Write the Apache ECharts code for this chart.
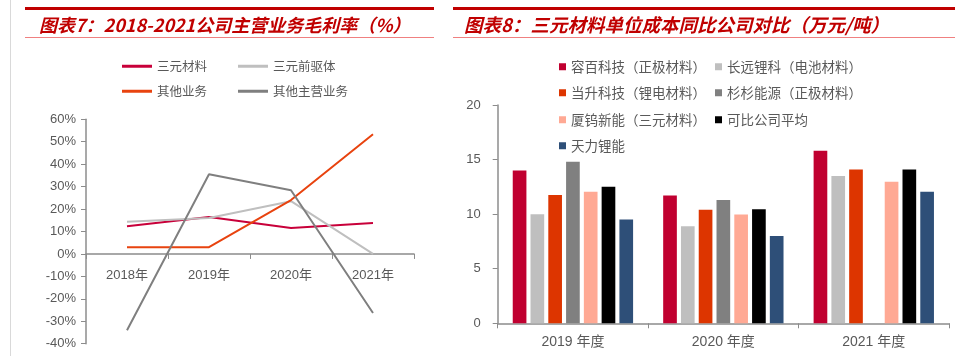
<!DOCTYPE html>
<html><head><meta charset="utf-8">
<script src="https://cdn.jsdelivr.net/npm/echarts@6/dist/echarts.min.js"></script>
<style>html,body{margin:0;padding:0;background:#fff}#c{width:963px;height:356px}</style>
</head><body><div id="c"></div>
<script>
// Left chart: gross margin (%)
const yearsL = ['2018年', '2019年', '2020年', '2021年'];
const sanyuanCailiao = [12.3, 16.5, 11.6, 13.8];
const sanyuanQianqu = [14.4, 16.0, 23.5, 0.0];
const qitaYewu = [3.0, 3.0, 24.0, 53.3];
const qitaZhuying = [-34.0, 35.5, 28.4, -26.3];
const lineNames = ['三元材料', '三元前驱体', '其他业务', '其他主营业务'];

// Right chart: unit cost (万元/吨)
const yearsR = ['2019 年度', '2020 年度', '2021 年度'];
const rongbai = [14.0, 11.7, 15.8];
const changyuan = [10.0, 8.9, 13.5];
const dangsheng = [11.75, 10.4, 14.1];
const shanshan = [14.8, 11.3, null];
const xiawu = [12.05, 9.97, 12.96];
const pingjun = [12.5, 10.45, 14.1];
const tianli = [9.5, 8.0, 12.05];
const barNames = ['容百科技（正极材料）', '长远锂科（电池材料）', '当升科技（锂电材料）', '杉杉能源（正极材料）', '厦钨新能（三元材料）', '可比公司平均', '天力锂能'];

const lineData = [sanyuanCailiao, sanyuanQianqu, qitaYewu, qitaZhuying];
const lineColors = ['#C8003A', '#BFBFBF', '#E8430F', '#7F7F7F'];
const barData = [rongbai, changyuan, dangsheng, shanshan, xiawu, pingjun, tianli];
const barColors = ['#C00030', '#BFBFBF', '#DD3500', '#808080', '#FFA994', '#000000', '#2E4F78'];

const numFont = 'Liberation Sans, Arial, Noto Sans CJK SC, sans-serif';
const cjkFont = 'Noto Sans CJK SC, sans-serif';
const labelColor = '#595959';
const axisColor = '#8C8C8C';

const legends = [];
const leftLegPos = [[122, 60], [238, 60], [122, 85], [238, 85]];
lineNames.forEach((n, i) => legends.push({
  data: [n], left: leftLegPos[i][0], top: leftLegPos[i][1], padding: 0,
  icon: 'rect', itemWidth: 30, itemHeight: 3, itemGap: 6,
  textStyle: {fontFamily: cjkFont, fontSize: 12.5, color: labelColor}
}));
const rightLegPos = [[559, 60], [715, 60], [559, 86], [715, 86], [559, 113], [715, 113], [559, 139]];
barNames.forEach((n, i) => legends.push({
  data: [n], left: rightLegPos[i][0], top: rightLegPos[i][1], padding: 0,
  icon: 'rect', itemWidth: 7, itemHeight: 7, itemGap: 3,
  textStyle: {fontFamily: cjkFont, fontSize: 13.5, color: labelColor}
}));

const series = [];
lineNames.forEach((n, i) => series.push({
  name: n, type: 'line', xAxisIndex: 0, yAxisIndex: 0, data: lineData[i],
  symbol: 'none', lineStyle: {width: 2, color: lineColors[i]}, itemStyle: {color: lineColors[i]}
}));
barNames.forEach((n, i) => series.push({
  name: n, type: 'bar', xAxisIndex: 1, yAxisIndex: 1, data: barData[i],
  barGap: '30%', barCategoryGap: '20%', itemStyle: {color: barColors[i]}
}));

const gridL = {left: 86, width: 328, top: 119.3, height: 224.4};
const zeroOffset = -(gridL.height * 40 / 100);

const chart = echarts.init(document.getElementById('c'), null, {renderer: 'canvas'});
chart.setOption({
  animation: false,
  backgroundColor: '#fff',
  title: [
    {text: '图表7：2018-2021公司主营业务毛利率（%）', left: 34, top: 11,
     textStyle: {fontFamily: cjkFont, fontSize: 18, fontWeight: 'bold', fontStyle: 'italic', color: '#C00000'}},
    {text: '图表8：三元材料单位成本同比公司对比（万元/吨）', left: 459, top: 11,
     textStyle: {fontFamily: cjkFont, fontSize: 18.5, fontWeight: 'bold', fontStyle: 'italic', color: '#C00000'}}
  ],
  graphic: [
    {type: 'line', shape: {x1: 10.5, y1: 0, x2: 10.5, y2: 356}, style: {stroke: '#D9D9D9', lineWidth: 1}},
    {type: 'rect', shape: {x: 25, y: 7, width: 409, height: 3}, style: {fill: '#C00000'}},
    {type: 'line', shape: {x1: 25, y1: 37.5, x2: 434, y2: 37.5}, style: {stroke: '#F08080', lineWidth: 1}},
    {type: 'rect', shape: {x: 453, y: 7, width: 502, height: 3}, style: {fill: '#C00000'}},
    {type: 'line', shape: {x1: 453, y1: 37.5, x2: 955, y2: 37.5}, style: {stroke: '#F08080', lineWidth: 1}}
  ],
  legend: legends,
  grid: [
    Object.assign({outerBoundsMode: 'none', containLabel: false}, gridL),
    {left: 497.7, width: 451.3, top: 105, height: 218.3, outerBoundsMode: 'none', containLabel: false}
  ],
  xAxis: [
    {type: 'category', gridIndex: 0, data: yearsL, boundaryGap: true, offset: zeroOffset,
     axisLine: {onZero: false, lineStyle: {color: axisColor, width: 1.5}},
     axisTick: {show: true, length: 5, lineStyle: {color: axisColor}},
     axisLabel: {margin: 15, fontFamily: numFont, fontSize: 13, color: labelColor}},
    {type: 'category', gridIndex: 1, data: yearsR, boundaryGap: true,
     axisLine: {lineStyle: {color: axisColor, width: 1.5}},
     axisTick: {show: true, length: 5, lineStyle: {color: axisColor}},
     axisLabel: {margin: 12, fontFamily: numFont, fontSize: 14, color: labelColor}}
  ],
  yAxis: [
    {type: 'value', gridIndex: 0, min: -40, max: 60, interval: 10,
     axisLine: {show: true, lineStyle: {color: axisColor, width: 1.5}},
     axisTick: {show: true, length: 5, lineStyle: {color: axisColor}},
     splitLine: {show: false},
     axisLabel: {margin: 10, formatter: '{value}%', fontFamily: numFont, fontSize: 13, color: labelColor}},
    {type: 'value', gridIndex: 1, min: 0, max: 20, interval: 5,
     axisLine: {show: true, lineStyle: {color: axisColor, width: 1.5}},
     axisTick: {show: true, length: 5, lineStyle: {color: axisColor}},
     splitLine: {show: false},
     axisLabel: {margin: 17, fontFamily: numFont, fontSize: 13, color: labelColor}}
  ],
  series: series
});
</script></body></html>
